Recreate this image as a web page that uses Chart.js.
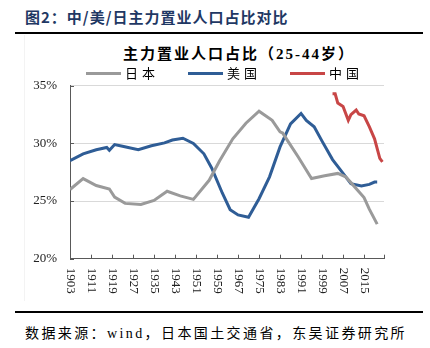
<!DOCTYPE html>
<html>
<head>
<meta charset="utf-8">
<script src="https://cdn.jsdelivr.net/npm/chart.js@4.4.1/dist/chart.umd.min.js"></script>
<style>
  html, body { margin: 0; padding: 0; background: #fff; }
  body { width: 430px; height: 348px; position: relative; overflow: hidden; }
  .abs { position: absolute; white-space: nowrap; }
  #header { left: 25px; top: 6px; line-height: 20px; font: bold 15px "Noto Sans CJK SC", sans-serif; color: #1f3864; letter-spacing: 1px; }
  .rule { left: 15px; width: 408px; height: 2px; background: #000; }
  #title { left: 0; width: 478px; text-align: center; top: 42px; line-height: 20px; font: bold 15px "Liberation Serif", "Noto Sans CJK SC", serif; color: #000; letter-spacing: 2px; }
  #legend { left: 86px; top: 64px; height: 18px; font: 13px "Noto Sans CJK SC", sans-serif; color: #000; letter-spacing: 4px; }
  .li { position: absolute; top: 0; line-height: 18px; }
  .ln { position: absolute; top: 7.5px; width: 35px; height: 3px; }
  #source { left: 25px; top: 322px; line-height: 20px; font: 14px "Liberation Serif", "Noto Sans CJK SC", serif; color: #000; letter-spacing: 2.4px; }
  #wrap { position: absolute; left: 0; top: 65px; width: 430px; height: 245px; }
  #frame { left: 24px; top: 35px; width: 1px; height: 266px; background: #f3f3f3; }
</style>
</head>
<body>
<div id="frame" class="abs"></div>
<div id="header" class="abs">图2：中/美/日主力置业人口占比对比</div>
<div class="abs rule" style="top:32px"></div>
<div id="title" class="abs">主力置业人口占比（25-44岁）</div>
<div id="wrap"><canvas id="c"></canvas></div>
<div id="legend" class="abs"></div>
<div class="abs rule" style="top:311px"></div>
<div id="source" class="abs">数据来源：wind，日本国土交通省，东吴证券研究所</div>
<script>
// ---- data ----
const seriesNames = ['日本', '美国', '中国'];
const seriesColors = ['#9a9a9a', '#2f5d96', '#c84646'];

const japanYears  = [1903, 1908, 1913, 1918, 1920, 1924, 1930, 1935, 1940, 1945, 1950, 1956, 1960, 1965, 1970, 1975, 1980, 1983, 1984, 1990, 1995, 2000, 2005, 2008, 2010, 2015, 2017, 2020];
const japanValues = [26.0, 26.95, 26.35, 26.05, 25.35, 24.8, 24.7, 25.05, 25.85, 25.45, 25.15, 26.8, 28.5, 30.4, 31.75, 32.8, 32.0, 31.0, 30.9, 28.8, 26.95, 27.2, 27.4, 27.1, 26.6, 25.3, 24.3, 23.0];

const usYears  = [1903, 1908, 1913, 1917, 1918, 1920, 1923, 1929, 1934, 1939, 1942, 1946, 1950, 1954, 1957, 1961, 1964, 1967, 1971, 1975, 1979, 1983, 1987, 1991, 1993, 1996, 1999, 2003, 2006, 2010, 2014, 2017, 2019, 2020];
const usValues = [28.5, 29.1, 29.45, 29.65, 29.4, 29.9, 29.75, 29.45, 29.8, 30.05, 30.3, 30.45, 30.0, 29.1, 27.85, 25.7, 24.25, 23.8, 23.6, 25.2, 27.1, 29.7, 31.7, 32.6, 32.0, 31.45, 30.2, 28.6, 27.7, 26.5, 26.3, 26.45, 26.65, 26.65];

const chinaYears  = [2003, 2004, 2005, 2007, 2009, 2010, 2012, 2013, 2015, 2017, 2019, 2021, 2022];
const chinaValues = [34.3, 34.3, 33.5, 33.2, 32.0, 32.5, 32.9, 32.55, 32.4, 31.45, 30.4, 28.7, 28.4];

const xTickYears = [1903, 1911, 1919, 1927, 1935, 1943, 1951, 1959, 1967, 1975, 1983, 1991, 1999, 2007, 2015];
const xMin = 1903, xMax = 2022.6;
const yTicks = [20, 25, 30, 35];

// ---- legend (HTML) ----
const legendX = [0, 102, 204];
const leg = document.getElementById('legend');
seriesNames.forEach((n, i) => {
  const l = document.createElement('div'); l.className = 'ln';
  l.style.left = legendX[i] + 'px'; l.style.background = seriesColors[i];
  const t = document.createElement('div'); t.className = 'li';
  t.style.left = (legendX[i] + 39) + 'px'; t.textContent = n;
  leg.appendChild(l); leg.appendChild(t);
});

const toPts = (xs, ys) => xs.map((x, i) => ({ x, y: ys[i] }));
const allYears = [japanYears, usYears, chinaYears];
const allValues = [japanValues, usValues, chinaValues];

const axisPlugin = {
  id: 'axisExtras',
  afterDraw(chart) {
    const ctx = chart.ctx, xs = chart.scales.x, ys = chart.scales.y;
    const y0 = ys.getPixelForValue(20), x0 = xs.getPixelForValue(xMin);
    ctx.save();
    ctx.strokeStyle = '#595959'; ctx.lineWidth = 1;
    ctx.beginPath();
    [...xTickYears, xMax].forEach(v => {
      const px = Math.round(xs.getPixelForValue(v)) + 0.5;
      ctx.moveTo(px, y0); ctx.lineTo(px, y0 - 4);
    });
    yTicks.forEach(v => {
      const py = Math.round(ys.getPixelForValue(v)) + 0.5;
      ctx.moveTo(x0, py); ctx.lineTo(x0 + 4, py);
    });
    ctx.stroke();
    ctx.fillStyle = '#222';
    ctx.font = '13px "Liberation Serif", serif';
    ctx.textAlign = 'left'; ctx.textBaseline = 'middle';
    xTickYears.forEach(v => {
      const px = xs.getPixelForValue(v);
      ctx.save();
      ctx.translate(px, y0 + 9);
      ctx.rotate(Math.PI / 2);
      ctx.fillText(String(v), 0, 0);
      ctx.restore();
    });
    ctx.restore();
  }
};

new Chart(document.getElementById('c'), {
  type: 'line',
  data: {
    datasets: seriesNames.map((n, i) => ({
      label: n,
      data: toPts(allYears[i], allValues[i]),
      borderColor: seriesColors[i],
      backgroundColor: seriesColors[i],
      borderWidth: 3,
      pointRadius: 0,
      tension: 0,
      fill: false
    }))
  },
  options: {
    responsive: true,
    maintainAspectRatio: false,
    animation: false,
    layout: { padding: { top: 5, right: 46, left: 0, bottom: 0 } },
    plugins: { legend: { display: false }, tooltip: { enabled: false }, title: { display: false } },
    scales: {
      x: {
        type: 'linear', min: xMin, max: xMax,
        ticks: { display: false },
        grid: { display: false, drawTicks: false },
        border: { display: true, color: '#595959', width: 1 },
        afterFit: s => { s.height = 51.3; }
      },
      y: {
        min: 20, max: 35,
        afterBuildTicks: s => { s.ticks = yTicks.map(v => ({ value: v })); },
        ticks: {
          padding: 13,
          color: '#222',
          font: { family: '"Liberation Serif", serif', size: 13 },
          callback: v => v + '%'
        },
        grid: { color: '#d9d9d9', lineWidth: 1, drawTicks: false },
        border: { display: true, color: '#595959', width: 1 },
        afterFit: s => { s.width = 70; }
      }
    }
  },
  plugins: [axisPlugin]
});
</script>
</body>
</html>
